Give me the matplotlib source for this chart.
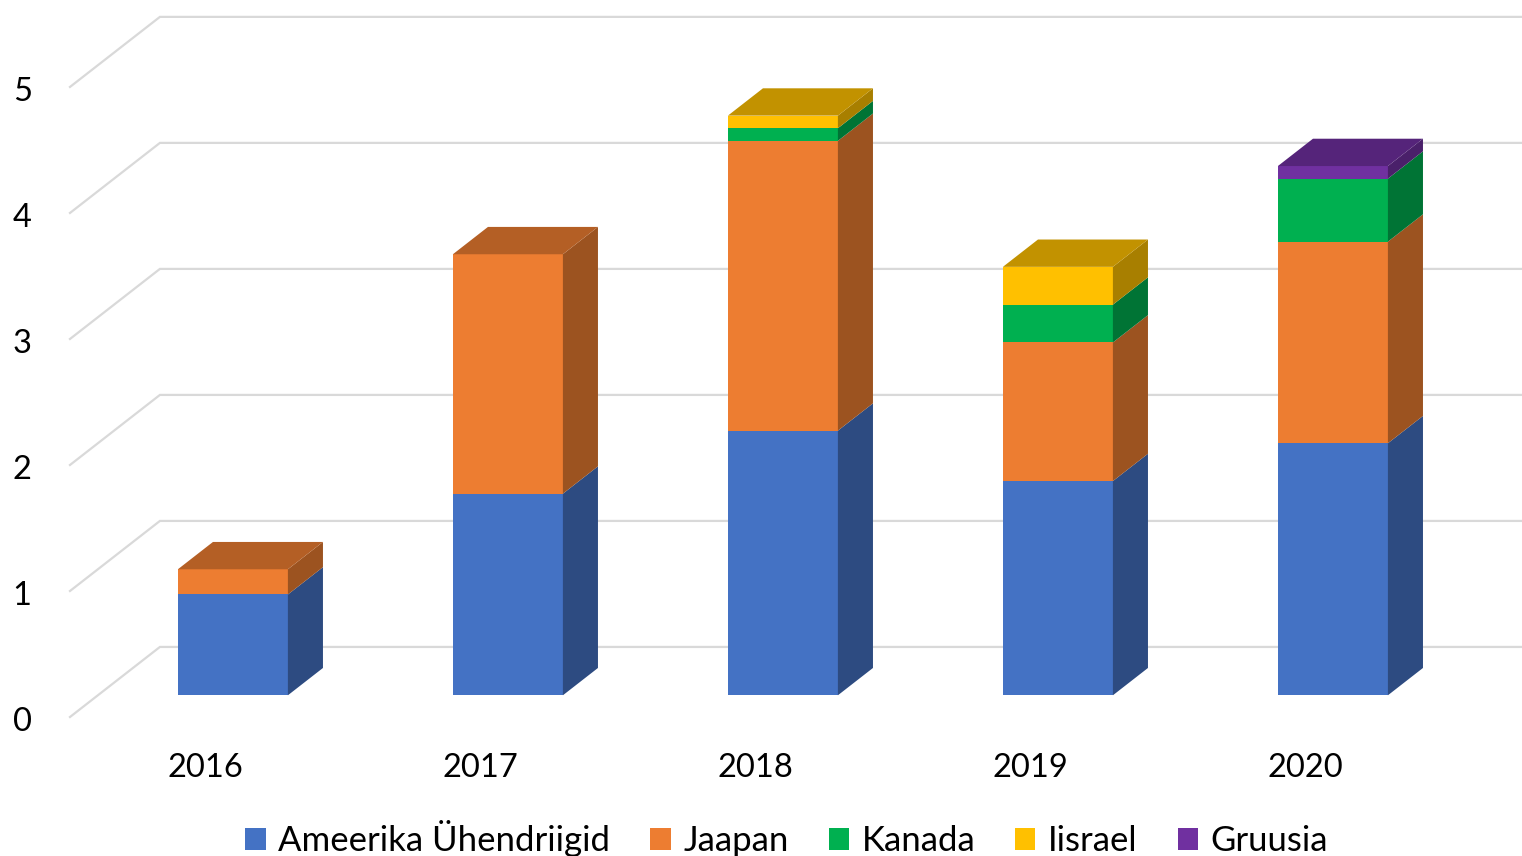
import numpy as np
import matplotlib.pyplot as plt
from matplotlib.patches import Polygon, Patch
from matplotlib.colors import to_rgb

years = ["2016", "2017", "2018", "2019", "2020"]
series = ["Ameerika Ühendriigid", "Jaapan", "Kanada", "Iisrael", "Gruusia"]
usa = [0.8, 1.6, 2.1, 1.7, 2.0]
japan = [0.2, 1.9, 2.3, 1.1, 1.6]
canada = [0.0, 0.0, 0.1, 0.3, 0.5]
israel = [0.0, 0.0, 0.1, 0.3, 0.0]
georgia = [0.0, 0.0, 0.0, 0.0, 0.1]
colors = ["#4472C4", "#ED7D31", "#00B050", "#FFC000", "#7030A0"]
yticks = [0, 1, 2, 3, 4, 5]

plt.rcParams["font.family"] = ["Lato", "DejaVu Sans"]

# pseudo-3D geometry (data units)
DX, DY = 0.327, 0.556      # full depth of the chart box
D_FRONT, D_BACK = 0.31, 0.70  # bar depth as fraction of the box
W = 0.4
WALL_X = -0.491


def shade(c, f):
    return tuple(np.array(to_rgb(c)) * f)


fig = plt.figure(figsize=(15.22, 8.56), dpi=100)
ax = fig.add_axes([0, 0, 1, 1])
ax.set_xlim(-0.7455, 4.789)
ax.set_ylim(-1.103, 5.690)
ax.axis("off")

# gridlines: left wall diagonal + back wall horizontal
for v in yticks:
    ax.plot([WALL_X, WALL_X + DX, 4.9], [v, v + DY, v + DY],
            color="#d9d9d9", lw=1.6, zorder=1, solid_joinstyle="miter")
    ax.text(-0.665, v - 0.04, str(v), ha="center", va="center", fontsize=23.5)

data = np.array([usa, japan, canada, israel, georgia])
for i, yr in enumerate(years):
    x0 = i - W / 2 + D_FRONT * DX
    x1 = x0 + W
    dx = (D_BACK - D_FRONT) * DX
    y_off = D_FRONT * DY
    dy = (D_BACK - D_FRONT) * DY
    bottom = 0.0
    top_color = None
    for s in range(len(series)):
        h = data[s, i]
        if h <= 0:
            continue
        yb, yt = bottom + y_off, bottom + h + y_off
        ax.bar(x0, h, width=W, bottom=yb, align="edge", color=colors[s],
               lw=0, zorder=3)
        ax.add_patch(Polygon([(x1, yb), (x1 + dx, yb + dy), (x1 + dx, yt + dy), (x1, yt)],
                             closed=True, fc=shade(colors[s], 0.66), lw=0, zorder=3))
        bottom += h
        top_color = colors[s]
    yt = bottom + y_off
    ax.add_patch(Polygon([(x0, yt), (x1, yt), (x1 + dx, yt + dy), (x0 + dx, yt + dy)],
                         closed=True, fc=shade(top_color, 0.76), lw=0, zorder=3))
    ax.text(i, -0.405, yr, ha="center", va="center", fontsize=23.5)

handles = [Patch(facecolor=c, edgecolor="none") for c in colors]
fig.legend(handles, series, loc="center", bbox_to_anchor=(0.517, 0.02), ncol=5,
           frameon=False, fontsize=25, handlelength=0.58, handleheight=0.58,
           handletextpad=0.37, columnspacing=1.15, borderaxespad=0)

fig.savefig("out.png", dpi=100)
